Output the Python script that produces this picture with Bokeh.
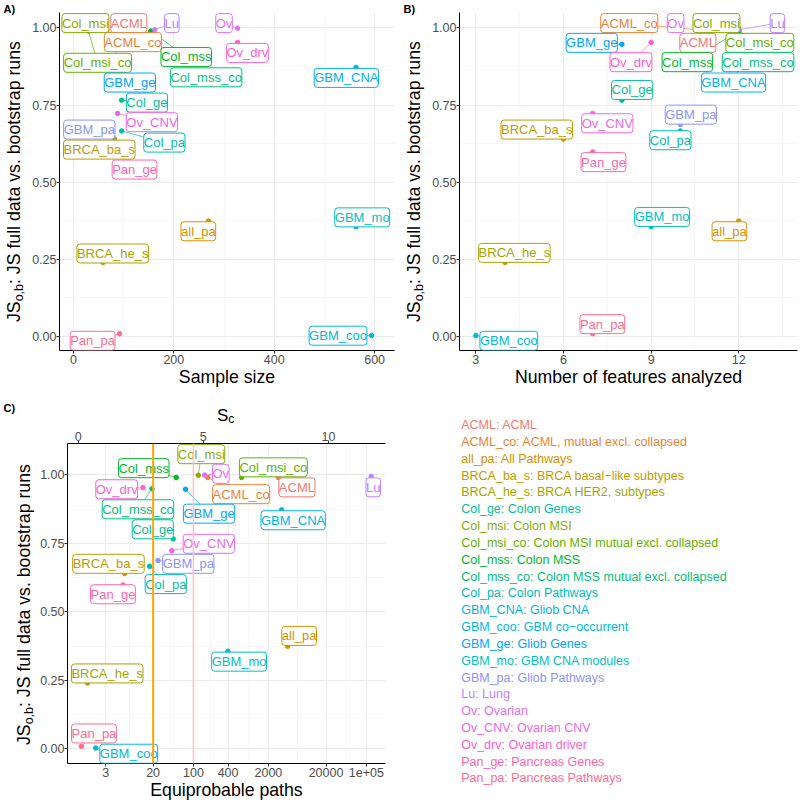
import numpy as np
from bokeh.plotting import figure
from bokeh.models import (Range1d, LinearAxis, LinearScale, FixedTicker,
                          PrintfTickFormatter, Label, Span, ColumnDataSource)
from bokeh.layouts import row, column
from bokeh.embed import file_html
from bokeh.resources import INLINE
from bokeh.core.properties import value

# ---------------- data ----------------
names = ["ACML", "ACML_co", "all_pa", "BRCA_ba_s", "BRCA_he_s", "Col_ge", "Col_msi",
         "Col_msi_co", "Col_mss", "Col_mss_co", "Col_pa", "GBM_CNA", "GBM_coo", "GBM_ge",
         "GBM_mo", "GBM_pa", "Lu", "Ov", "Ov_CNV", "Ov_drv", "Pan_ge", "Pan_pa"]
descriptions = ["ACML", "ACML, mutual excl. collapsed", "All Pathways",
                "BRCA basal\u2212like subtypes", "BRCA HER2, subtypes", "Colon Genes",
                "Colon MSI", "Colon MSI mutual excl. collapsed", "Colon MSS",
                "Colon MSS mutual excl. collapsed", "Colon Pathways", "Gliob CNA",
                "GBM co\u2212occurrent", "Gliob Genes", "GBM CNA modules", "Gliob Pathways",
                "Lung", "Ovarian", "Ovarian CNV", "Ovarian driver", "Pancreas Genes",
                "Pancreas Pathways"]
sample_size = [66, 66, 269, 82, 59, 96, 30, 30, 154, 154, 96, 563, 594, 77,
               563, 75, 162, 327, 88, 327, 92, 92]
n_features = [11, 11, 12, 6, 4, 8, 12, 12, 12, 12, 10, 12, 3, 8,
              9, 10, 12, 10, 7, 9, 7, 7]
entropy_sc = [8.00, 5.18, 8.37, 1.86, 0.37, 3.80, 4.80, 6.53, 3.92, 2.95, 2.85, 8.13,
              0.70, 4.29, 5.98, 3.19, 11.71, 5.05, 3.74, 2.59, 1.79, 0.13]
js_ob = [0.990, 0.990, 0.374, 0.640, 0.240, 0.766, 0.998, 0.990, 0.990, 0.949, 0.666,
         0.872, 0.003, 0.947, 0.356, 0.687, 0.994, 0.999, 0.723, 0.953, 0.598, 0.009]

x_ticks_A = [0, 200, 400, 600]
x_ticks_B = [3, 6, 9, 12]
x_ticks_C = [3, 20, 100, 400, 2000, 20000, 100000]
x_tick_labels_C = ["3", "20", "100", "400", "2000", "20000", "1e+05"]
top_ticks_C = [0, 5, 10]
y_ticks = [0.0, 0.25, 0.50, 0.75, 1.00]
ref_lines_C = [20, 100]

# ---------------- styling / layout ----------------
colors = ["#F8766D", "#EA8331", "#D89000", "#C09B00", "#A3A500", "#00C19A", "#8AAB00",
          "#62B200", "#00B82B", "#00BF7D", "#00BDB8", "#00B4E6", "#00BAD8", "#00A5FF",
          "#00BFC4", "#8B93FF", "#B983FF", "#E36EF6", "#F066EA", "#FD61D1", "#FF65AC",
          "#FF6C91"]

# label (repelled) positions, per panel, in data units
labA_x = [110.3, 118.5, 248.9, 51.5, 78.2, 146.5, 23.8, 48.2, 224.8, 264.4, 181.2, 543.6,
          527.1, 112.5, 575.3, 31.7, 196.0, 300.0, 156.4, 346.5, 121.8, 38.2]
labA_y = [1.0156, 0.954, 0.341, 0.6057, 0.269, 0.758, 1.0156, 0.887, 0.906, 0.840, 0.6284,
          0.838, 0.0026, 0.823, 0.386, 0.6706, 1.0156, 1.0156, 0.6945, 0.919, 0.541, -0.014]
labB_x = [10.60, 8.253, 11.68, 5.085, 4.32, 8.35, 11.236, 12.72, 10.24, 12.66, 9.66, 11.82,
          4.13, 6.969, 9.377, 10.36, 13.322, 9.839, 7.50, 8.31, 7.37, 7.33]
labB_y = [0.9517, 1.0156, 0.341, 0.6706, 0.271, 0.799, 1.0156, 0.9517, 0.889, 0.889, 0.636,
          0.823, -0.014, 0.9517, 0.3875, 0.719, 1.0156, 1.0156, 0.691, 0.889, 0.565, 0.040]
labC_sc = [8.74, 6.51, 8.83, 1.21, 1.16, 2.98, 4.92, 7.80, 2.62, 2.39, 3.50, 8.59,
           2.02, 5.23, 6.43, 4.40, 11.79, 5.70, 5.22, 1.54, 1.39, 0.63]
labC_y = [0.954, 0.929, 0.412, 0.675, 0.275, 0.801, 1.075, 1.027, 1.024, 0.874, 0.601,
          0.834, -0.018, 0.858, 0.318, 0.675, 0.954, 1.0036, 0.748, 0.947, 0.564, 0.056]

FONT = "Liberation Sans"
GRID = "#EBEBEB"
MINOR = "#F4F4F4"
TITLE_PX = 17.7
SUB_PX = 12.5


def make_fig(W, H, bl, br, bt, bb, xr, yr, xlabel, logx=False):
    kw = dict(width=W, height=H, y_range=Range1d(*yr), output_backend="svg",
              toolbar_location=None)
    if logx:
        p = figure(x_range=Range1d(float(np.exp(xr[0])), float(np.exp(xr[1]))),
                   x_axis_type="log", **kw)
    else:
        p = figure(x_range=Range1d(*xr), **kw)
    p.min_border_left = bl; p.min_border_right = br
    p.min_border_top = bt; p.min_border_bottom = bb
    p.outline_line_color = None
    for ax in p.xaxis + p.yaxis:
        ax.axis_line_color = "black"
        ax.axis_line_width = 1
        ax.major_tick_line_color = "#333333"
        ax.major_tick_out = 3
        ax.major_tick_in = 0
        ax.minor_tick_line_color = None
        ax.major_label_text_font = FONT
        ax.major_label_text_font_size = "12.5px"
        ax.major_label_text_color = "#4D4D4D"
    p.xaxis.major_label_standoff = 1
    p.yaxis.major_label_standoff = 0
    p.xaxis.axis_label = xlabel
    p.xaxis.axis_label_text_font = FONT
    p.xaxis.axis_label_text_font_size = f"{TITLE_PX}px"
    p.xaxis.axis_label_text_font_style = "normal"
    p.xaxis.axis_label_text_color = "black"
    p.xaxis.axis_label_standoff = 0
    p.yaxis.ticker = FixedTicker(ticks=y_ticks)
    p.yaxis.formatter = PrintfTickFormatter(format="%.2f")
    p.ygrid.ticker = FixedTicker(ticks=y_ticks, minor_ticks=[0.125, 0.375, 0.625, 0.875])
    for g in p.xgrid + p.ygrid:
        g.grid_line_color = GRID
        g.grid_line_width = 1
        g.minor_grid_line_color = MINOR
        g.minor_grid_line_width = 0.7
    return p


def blank_fig(W, H):
    """figure whose frame is the whole canvas; data units == canvas pixels (y down)."""
    p = figure(width=W, height=H, x_range=Range1d(0, W), y_range=Range1d(H, 0),
               x_axis_location=None, y_axis_location=None, output_backend="svg",
               toolbar_location=None)
    p.min_border_left = 0; p.min_border_right = 0
    p.min_border_top = 0; p.min_border_bottom = 0
    p.outline_line_color = None
    p.grid.visible = False
    return p


def put_text(p, x, y, s, size, angle=0.0, bold=False):
    p.text(x=[x], y=[y], text=[s], angle=angle, text_align="left",
           text_baseline="middle", text_font=value(FONT), text_font_size=size,
           text_font_style="bold" if bold else "normal", text_color="black")


def y_title_strip(W, H, mx, yc, tag=None):
    t = blank_fig(W, H)
    w1 = 1.167 * TITLE_PX
    w2 = 1.390 * SUB_PX
    w3 = 13.729 * TITLE_PX
    y1 = yc + (w1 + w2 + w3) / 2
    put_text(t, mx, y1, "JS", f"{TITLE_PX}px", np.pi / 2)
    put_text(t, mx + 5.5, y1 - w1, "o,b", f"{SUB_PX}px", np.pi / 2)
    put_text(t, mx, y1 - w1 - w2, ": JS full data vs. bootstrap runs", f"{TITLE_PX}px",
             np.pi / 2)
    if tag is not None:
        put_text(t, tag[1], tag[2], tag[0], "11px", bold=True)
    return t


def add_points_labels(p, px, py, lx, ly):
    src = ColumnDataSource(dict(x=px, y=py, lx=lx, ly=ly, c=colors))
    p.segment(x0="x", y0="y", x1="lx", y1="ly", line_color="c", line_width=0.7, source=src)
    p.scatter(x="x", y="y", size=4.5, color="c", source=src)
    for n, c, x, y in zip(names, colors, lx, ly):
        p.add_layout(Label(x=x, y=y, text=n, text_align="center", text_baseline="middle",
                           text_font=FONT, text_font_size="13px", text_color=c,
                           background_fill_color="white", border_line_color=c,
                           border_line_width=1, padding=(0, 2), border_radius=3))


# ---------------- panel A ----------------
pA = make_fig(371, 395, 28, 6, 12, 45, (-27.7, 639.6), (-0.0454, 1.050), "Sample size")
pA.xaxis.ticker = FixedTicker(ticks=x_ticks_A)
pA.xgrid.ticker = FixedTicker(ticks=x_ticks_A, minor_ticks=[100, 300, 500])
add_points_labels(pA, sample_size, js_ob, labA_x, labA_y)
tA = y_title_strip(29, 395, 13.0, 181.0, tag=("A)", 3, 8))

# ---------------- panel B ----------------
pB = make_fig(371, 395, 30, 3, 12, 45, (2.442, 14.01), (-0.0454, 1.050),
              "Number of features analyzed")
pB.xaxis.ticker = FixedTicker(ticks=x_ticks_B)
pB.xgrid.ticker = FixedTicker(ticks=x_ticks_B, minor_ticks=[4.5, 7.5, 10.5, 13.5])
add_points_labels(pB, n_features, js_ob, labB_x, labB_y)
tB = y_title_strip(29, 395, 13.0, 181.0, tag=("B)", 3, 8))

# ---------------- panel C ----------------
sc_range = (-0.426, 12.28)
pC = make_fig(383, 377, 29, 35, 17, 40, sc_range, (-0.0536, 1.114),
              "Equiprobable paths", logx=True)
pC.xaxis.ticker = FixedTicker(ticks=x_ticks_C)
pC.xaxis.major_label_overrides = {t: l for t, l in zip(x_ticks_C, x_tick_labels_C)}
minorC = [float(np.sqrt(a * b)) for a, b in zip(x_ticks_C[:-1], x_ticks_C[1:])]
pC.xgrid.ticker = FixedTicker(ticks=x_ticks_C, minor_ticks=minorC)
pC.extra_x_ranges = {"sc": Range1d(*sc_range)}
pC.extra_x_scales = {"sc": LinearScale()}
top = LinearAxis(x_range_name="sc", ticker=FixedTicker(ticks=top_ticks_C))
top.axis_line_color = "black"
top.major_tick_line_color = "#333333"
top.major_tick_out = 3
top.major_tick_in = 0
top.minor_tick_line_color = None
top.major_label_text_font = FONT
top.major_label_text_font_size = "12.5px"
top.major_label_text_color = "#4D4D4D"
top.major_label_standoff = 0
pC.add_layout(top, "above")

paths = [float(np.exp(v)) for v in entropy_sc]
labC_x = [float(np.exp(v)) for v in labC_sc]
add_points_labels(pC, paths, js_ob, labC_x, labC_y)
pC.add_layout(Span(location=ref_lines_C[0], dimension="height", line_color="#FFA500",
                   line_width=2))
pC.add_layout(Span(location=ref_lines_C[1], dimension="height", line_color="#FFC0CB",
                   line_width=1.5))
tC = y_title_strip(37, 377, 23.3, 178.0)

# strip above panel C: tag and secondary-axis title S_c
sC = blank_fig(420, 31)
put_text(sC, 3, 12, "C)", "11px", bold=True)
put_text(sC, 216.5, 20.3, "S", "17px")
put_text(sC, 227.8, 23.3, "c", "12px")

# ---------------- legend (text key) ----------------
pL = blank_fig(380, 408)
leg_text = [f"{n}: {d}" for n, d in zip(names, descriptions)]
leg_x = [40.7] * len(names)
leg_y = [29.7 + 16.82 * i for i in range(len(names))]
pL.text(x=leg_x, y=leg_y, text=leg_text, text_color=colors, text_font=value(FONT),
        text_font_size="12.5px", text_baseline="middle", text_align="left")

layout = column(
    row(column(tA), pA, column(tB), pB),
    row(column(sC, row(column(tC), pC)), pL),
)
open("out.html", "w").write(file_html(layout, INLINE))
